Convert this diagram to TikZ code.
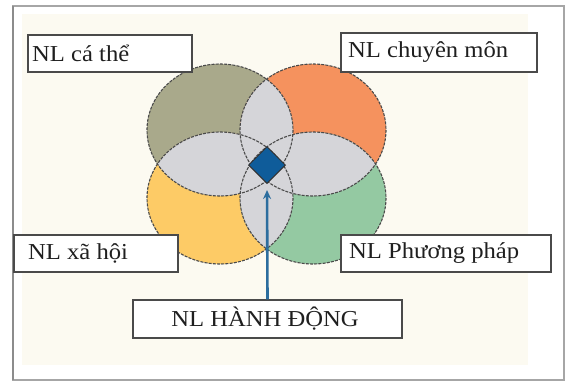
\documentclass[tikz,border=0pt]{standalone}
\usepackage{fontspec}
\newfontfamily\lblfont[FakeStretch=1.08]{Liberation Serif}
\usetikzlibrary{shapes.geometric,arrows.meta}
\definecolor{cream}{HTML}{FCFAF1}
\definecolor{olivec}{HTML}{A9A98B}
\definecolor{orangec}{HTML}{F5925E}
\definecolor{yellowc}{HTML}{FDCB66}
\definecolor{greenc}{HTML}{94C9A2}
\definecolor{lensc}{HTML}{D5D5D9}
\definecolor{diac}{HTML}{0F5C9A}
\definecolor{arrowc}{HTML}{2C6D9E}
\definecolor{edgec}{HTML}{4A4A4A}
\tikzset{
  lbl/.style={draw=edgec, line width=1.3pt, fill=white, inner sep=0pt},
  lbltext/.style={font=\lblfont\fontsize{22.8}{27}\selectfont, text=black!88, anchor=west, inner sep=0pt},
  ring/.style={draw=edgec, line width=1.1pt, dash pattern=on 3pt off 1.2pt},
}
\begin{document}
\begin{tikzpicture}[x=1pt,y=-1pt]
\useasboundingbox (0,0) rectangle (566,381);
\fill[white] (0,0) rectangle (566,381);
\fill[cream] (22,14) rectangle (528,365);
\draw[gray!70, line width=1.4pt] (13,6) rectangle (564,380);
\draw[gray!90, line width=2pt] (13,6) -- (13,380);
% ellipses
\def\rx{73}\def\ry{66}
\coordinate (ctl) at (220,130);
\coordinate (ctr) at (313,130);
\coordinate (cbl) at (220,198);
\coordinate (cbr) at (313,198);
\fill[olivec] (ctl) ellipse [x radius=\rx, y radius=\ry];
\fill[orangec] (ctr) ellipse [x radius=\rx, y radius=\ry];
\fill[yellowc] (cbl) ellipse [x radius=\rx, y radius=\ry];
\fill[greenc] (cbr) ellipse [x radius=\rx, y radius=\ry];
\foreach \a/\b in {ctl/ctr,ctl/cbl,ctl/cbr,ctr/cbl,ctr/cbr,cbl/cbr}{
  \begin{scope}
    \clip (\a) ellipse [x radius=\rx, y radius=\ry];
    \fill[lensc] (\b) ellipse [x radius=\rx, y radius=\ry];
  \end{scope}
}
\foreach \c in {ctl,ctr,cbl,cbr}{
  \draw[ring] (\c) ellipse [x radius=\rx, y radius=\ry];
}
% diamond
\node[diamond, aspect=1, minimum size=37pt, inner sep=0pt, fill=diac, draw=black!80, line width=1pt] (dia) at (267,165) {};
% label boxes
\draw[lbl] (28,35) rectangle (192,72);
\node[lbltext] (t1) at (32,53) {NL cá thể};
\draw[lbl] (341,33) rectangle (537,72);
\node[lbltext] (t2) at (348,52) {NL chuyên môn};
\draw[lbl] (14,235) rectangle (178,272);
\node[lbltext] (t3) at (28,253) {NL xã hội};
\draw[lbl] (341,235) rectangle (551,272);
\node[lbltext] (t4) at (349,253) {NL Phương pháp};
\node[lbl, minimum width=269pt, minimum height=38pt] (hd) at (267.5,319) {};
\node[lbltext, anchor=center] (t5) at (265,319) {NL HÀNH ĐỘNG};
% arrow
\draw[arrowc, line width=2.6pt, -{Stealth[length=9pt,width=8pt]}, shorten >=6pt] (hd.north) -- (dia.south);
\end{tikzpicture}
\end{document}
